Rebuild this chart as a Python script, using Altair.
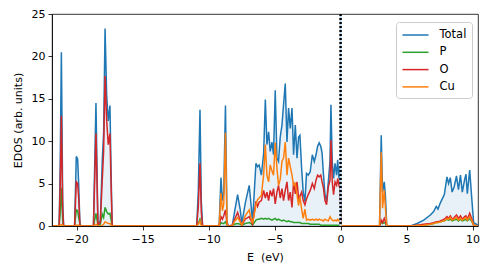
import altair as alt
import pandas as pd

# ---- data ----
energy = [
    -21.85, -21.32, -21.24, -21.15, -21.05, -20.98,
    -20.15, -20.02, -19.92, -19.84, -19.74, -19.65,
    -18.72, -18.53, -18.38, -18.2, -18.05, -17.95, -17.84, -17.72, -17.6, -17.47, -17.38, -17.3,
    -10.9, -10.78, -10.65, -10.55, -10.45,
    -9.2, -9.06, -8.95, -8.85, -8.72, -8.6, -8.5,
    -8.2, -8.05, -7.8, -7.6, -7.48, -7.22, -6.92, -6.8, -6.67,
    -6.41, -6.29, -6.17, -6.0, -5.83, -5.70, -5.58, -5.45, -5.33, -5.2, -5.08,
    -4.95, -4.82, -4.70, -4.57, -4.44, -4.32, -4.19, -4.06, -3.94, -3.81, -3.68,
    -3.56, -3.43, -3.30, -3.18, -3.08, -2.95, -2.83, -2.70, -2.58, -2.45, -2.3,
    -2.14, -1.99, -1.86, -1.74, -1.62, -1.50, -1.40, -1.31, -1.18, -1.06,
    -0.93, -0.80, -0.73, -0.63, -0.53, -0.42, -0.30, -0.22, -0.12, -0.05, 0.05,
    2.95, 3.08, 3.18, 3.31, 3.4, 3.5,
    5.3, 5.8, 6.3, 6.8, 7.05, 7.25, 7.38, 7.55, 7.86,
    8.06, 8.18, 8.31, 8.45, 8.6, 8.78, 8.93, 9.08, 9.22, 9.4, 9.5, 9.6, 9.78, 9.95, 10.08, 10.4,
]
total = [
    0, 0, 7.0, 20.5, 3.0, 0,
    0, 8.2, 7.9, 5.0, 0, 0,
    0, 14.5, 0.3, 0.6, 7.8, 11.0, 23.3, 15.5, 12.4, 14.2, 6.0, 0,
    0, 4.0, 13.7, 3.0, 0,
    0, 5.7, 3.0, 4.0, 14.2, 0.5, 0,
    0.1, 1.5, 3.7, 1.9, 0.3, 2.7, 4.8, 2.8, 0.5,
    7.4, 7.0, 7.2, 6.0, 8.5, 14.9, 9.6, 11.1, 8.8, 9.9, 8.4,
    16.0, 8.0, 7.6, 10.5, 11.9, 14.3, 16.8, 9.9, 13.9, 11.5, 13.9,
    8.4, 11.9, 8.0, 10.5, 10.7, 6.8, 4.0, 2.9, 6.2, 6.0, 6.4,
    8.4, 7.6, 8.4, 9.4, 9.8, 9.4, 8.6, 6.4, 3.7, 2.9,
    5.2, 7.6, 14.3, 7.6, 5.6, 7.4, 6.0, 7.8, 5.6, 7.0, 0,
    0, 10.7, 4.0, 5.2, 3.5, 0,
    0, 0.3, 0.7, 1.3, 1.7, 2.3, 2.0, 2.7, 3.7,
    5.8, 5.0, 5.7, 4.0, 4.6, 5.9, 4.3, 6.0, 4.0, 5.5, 6.1, 3.8, 6.6, 3.0, 0.4, 0.1,
]
p_dos = [
    0, 0, 1.5, 4.5, 0.6, 0,
    0, 1.9, 1.8, 1.0, 0.2, 0,
    0, 1.5, 0.1, 0.2, 1.4, 1.0, 2.2, 1.7, 1.4, 1.5, 0.7, 0,
    0, 0.3, 0.8, 0.2, 0,
    0, 0.4, 0.3, 0.3, 0.5, 0.1, 0,
    0, 0.2, 0.3, 0.2, 0.1, 0.3, 0.4, 0.3, 0.1,
    0.7, 0.8, 0.8, 0.9, 0.8, 0.9, 0.8, 0.9, 0.8, 0.7, 0.8,
    0.9, 0.7, 0.8, 0.7, 0.6, 0.7, 0.6, 0.5, 0.6, 0.5, 0.5,
    0.4, 0.4, 0.4, 0.4, 0.4, 0.3, 0.3, 0.3, 0.3, 0.3, 0.2,
    0.2, 0.2, 0.2, 0.2, 0.2, 0.1, 0.1, 0.1, 0.1, 0.1,
    0.1, 0.1, 0.1, 0.1, 0.1, 0.1, 0.1, 0.1, 0.1, 0.1, 0,
    0, 0.5, 0.3, 0.4, 0.3, 0,
    0, 0.05, 0.1, 0.2, 0.3, 0.4, 0.4, 0.5, 0.6,
    0.8, 0.7, 0.8, 0.6, 0.7, 0.8, 0.6, 0.8, 0.6, 0.7, 0.8, 0.6, 0.9, 0.5, 0.1, 0,
]
o_dos = [
    0, 0, 4.5, 13.0, 1.8, 0,
    0, 5.2, 5.0, 3.3, 0, 0,
    0, 10.9, 0.2, 0.4, 5.5, 8.8, 17.7, 12.5, 9.6, 10.9, 4.5, 0,
    0, 2.2, 7.4, 1.6, 0,
    0, 1.1, 0.8, 1.2, 1.9, 0.2, 0,
    0.1, 0.7, 1.6, 0.6, 0.1, 0.8, 1.1, 0.7, 0.2,
    2.9, 2.3, 2.8, 3.0, 4.2, 3.3, 4.0, 3.0, 4.2, 3.5, 4.4,
    2.6, 4.0, 4.8, 3.3, 4.4, 3.0, 4.2, 5.2, 3.0, 4.0, 2.2,
    5.2, 3.8, 5.2, 3.3, 3.5, 4.0, 3.0, 2.5, 3.2, 3.7, 4.2,
    5.0, 4.4, 5.4, 6.0, 5.8, 6.0, 5.2, 4.6, 3.0, 2.5,
    4.6, 5.4, 10.1, 5.2, 3.7, 5.2, 4.8, 5.6, 4.8, 5.0, 0,
    0, 0.7, 0.4, 0.9, 0.5, 0,
    0, 0.1, 0.2, 0.3, 0.4, 0.5, 0.5, 0.6, 0.8,
    1.1, 0.9, 1.2, 0.8, 1.0, 1.3, 0.9, 1.2, 0.8, 1.1, 1.2, 0.8, 1.5, 0.8, 0.1, 0,
]
cu_dos = [
    0, 0, 0.1, 0.2, 0.1, 0,
    0, 0.1, 0.1, 0.1, 0, 0,
    0, 0.2, 0, 0, 0.1, 0.2, 0.5, 0.4, 0.3, 0.3, 0.1, 0,
    0, 0.2, 0.6, 0.1, 0,
    0, 3.9, 1.8, 2.6, 11.0, 0.2, 0,
    0, 0.5, 1.0, 0.5, 0.1, 1.2, 1.9, 1.0, 0.3,
    2.5, 3.1, 3.3, 3.6, 6.0, 9.6, 6.0, 5.2, 7.2, 6.5, 6.0,
    9.8, 6.8, 4.8, 5.5, 7.6, 8.0, 9.9, 6.0, 8.0, 7.0, 6.0,
    4.8, 5.0, 3.7, 2.4, 3.5, 2.0, 0.9, 2.0, 0.7, 0.8, 0.7,
    0.8, 0.7, 0.8, 0.7, 0.8, 0.7, 0.7, 0.6, 0.8, 0.7,
    0.6, 1.1, 0.9, 0.7, 0.6, 0.7, 0.6, 0.8, 0.6, 0.5, 0,
    0, 8.7, 2.1, 4.2, 2.1, 0,
    0, 0.05, 0.1, 0.2, 0.3, 0.4, 0.4, 0.5, 0.6,
    0.9, 0.8, 1.0, 0.7, 0.8, 1.0, 0.7, 0.9, 0.7, 0.9, 1.0, 0.7, 1.1, 0.6, 0.1, 0,
]

series_names = ["Total", "P", "O", "Cu"]
series_colors = ["#1f77b4", "#2ca02c", "#d62728", "#ff7f0e"]
x_ticks = [-20, -15, -10, -5, 0, 5, 10]
y_ticks = [0, 5, 10, 15, 20, 25]
x_range = [-21.86, 10.41]
y_range = [0, 25]
fermi = [0.0]

wide = pd.DataFrame({"E": energy, "Total": total, "P": p_dos, "O": o_dos, "Cu": cu_dos})
long = wide.melt(id_vars="E", value_vars=series_names, var_name="series", value_name="dos")

FONT = "DejaVu Sans"

x_enc = alt.X(
    "E:Q",
    scale=alt.Scale(domain=x_range, nice=False, zero=False),
    axis=alt.Axis(values=x_ticks, title="E\u00a0 (eV)", labelPadding=3, titlePadding=7, zindex=1),
)
y_scale = alt.Scale(domain=y_range, nice=False)

fill = alt.Chart(wide).mark_area(color="#1f77b4", opacity=0.1, clip=True).encode(
    x=x_enc,
    y=alt.Y("Total:Q", scale=y_scale,
            axis=alt.Axis(values=y_ticks, title="EDOS (arb. units)", labelPadding=3, titlePadding=8, zindex=1)),
)

lines = alt.Chart(long).mark_line(strokeWidth=1.5, clip=True).encode(
    x=x_enc,
    y=alt.Y("dos:Q", scale=y_scale),
    color=alt.Color(
        "series:N",
        scale=alt.Scale(domain=series_names, range=series_colors),
        legend=alt.Legend(
            title=None,
            orient="none",
            legendX=344,
            legendY=8,
            symbolType="M-1,0H3",
            symbolSize=169,
            symbolStrokeWidth=1.5,
            labelFont=FONT,
            labelFontSize=11.5,
            labelColor="black",
            labelOffset=23,
            padding=5.5,
            rowPadding=4.3,
            strokeColor="#cccccc",
            cornerRadius=3,
            fillColor="white",
        ),
    ),
)

fermi_df = pd.DataFrame({"E": fermi})
fermi_bg = alt.Chart(fermi_df).mark_rule(color="#bcd6ec", strokeWidth=2).encode(x="E:Q")
fermi_line = alt.Chart(fermi_df).mark_rule(color="black", strokeWidth=2.5, strokeDash=[2, 2]).encode(x="E:Q")

chart = (
    alt.layer(fill, lines, fermi_bg, fermi_line)
    .properties(
        width=426,
        height=212,
        autosize=alt.AutoSizeParams(type="none"),
        padding={"left": 44, "top": 6, "right": 4, "bottom": 40},
    )
    .configure_view(stroke="black", strokeWidth=0.8)
    .configure_axis(
        labelFont=FONT,
        titleFont=FONT,
        labelFontSize=11,
        titleFontSize=11,
        titleFontWeight="normal",
        labelColor="black",
        titleColor="black",
        tickColor="black",
        domainColor="black",
        domainWidth=0.8,
        tickWidth=0.8,
        tickSize=4,
        grid=False,
    )
)

chart.save("out.html", embed_options={"renderer": "svg", "actions": False})
